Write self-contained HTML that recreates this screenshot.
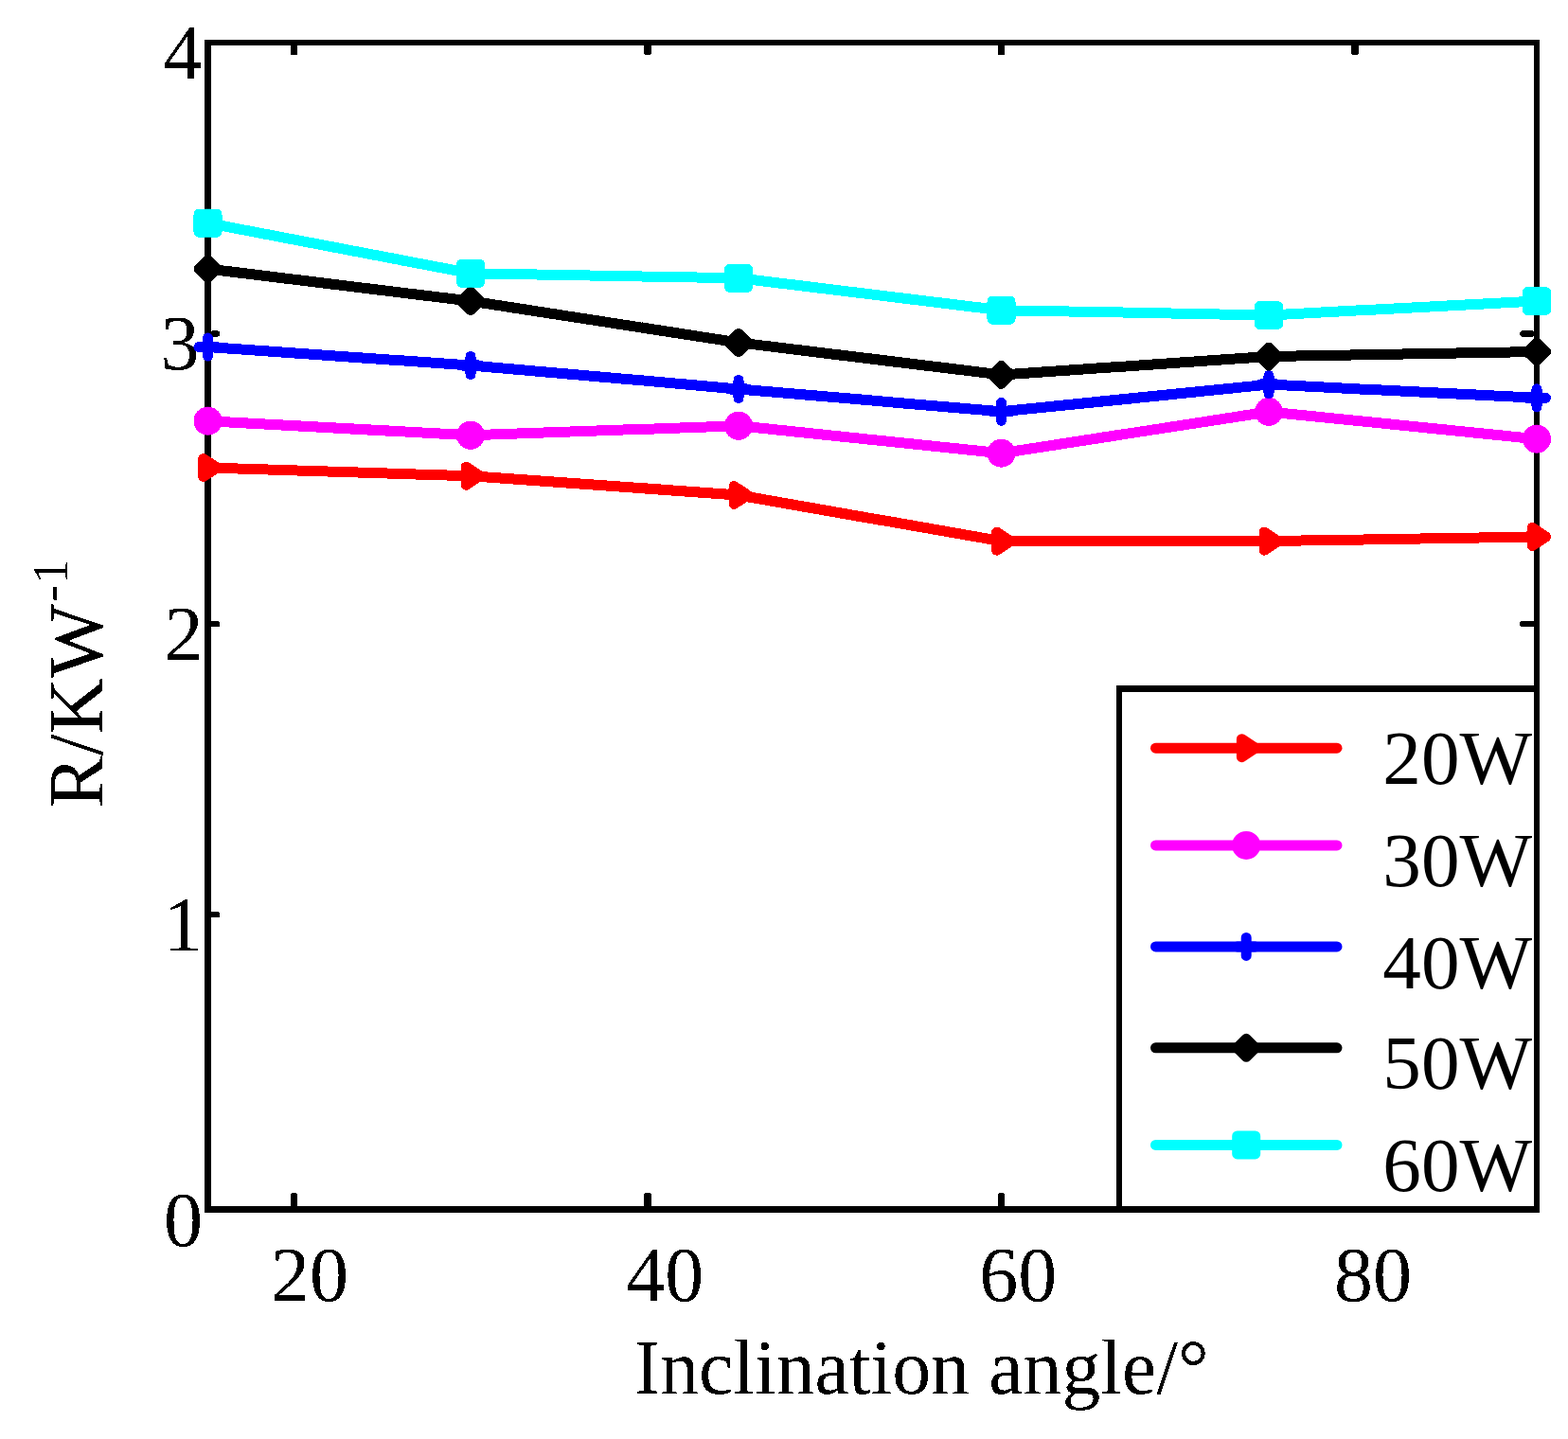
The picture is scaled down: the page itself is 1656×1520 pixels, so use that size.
<!DOCTYPE html>
<html><head><meta charset="utf-8"><title>R/KW-1 vs Inclination angle</title>
<style>html,body{margin:0;padding:0;background:#fff;overflow:hidden;}svg{display:block;}text{font-family:'Liberation Serif', 'Times New Roman', serif;fill:#000;}</style></head><body>
<svg width="1656" height="1520" viewBox="0 0 1656 1520">
<defs><filter id="alias" x="0" y="0" width="1656" height="1520" filterUnits="userSpaceOnUse" color-interpolation-filters="sRGB"><feComponentTransfer><feFuncA type="discrete" tableValues="0 1"/></feComponentTransfer></filter></defs>
<rect width="1656" height="1520" fill="#fff"/>
<g filter="url(#alias)">
<g fill="#000">
<rect x="216" y="42" width="7" height="1239"/>
<rect x="1620" y="42" width="6" height="1239"/>
<rect x="216" y="42" width="1410" height="6"/>
<rect x="216" y="1274" width="1410" height="7"/>
<rect x="307.0" y="1260" width="7" height="15" rx="1.5"/>
<rect x="307.0" y="47" width="7" height="11" rx="1.5"/>
<rect x="680.5" y="1260" width="7" height="15" rx="1.5"/>
<rect x="680.5" y="47" width="7" height="11" rx="1.5"/>
<rect x="1054.0" y="1260" width="7" height="15" rx="1.5"/>
<rect x="1054.0" y="47" width="7" height="11" rx="1.5"/>
<rect x="1427.5" y="1260" width="7" height="15" rx="1.5"/>
<rect x="1427.5" y="47" width="7" height="11" rx="1.5"/>
<rect x="222" y="962.9" width="10" height="6" rx="1.5"/>
<rect x="1605.5" y="962.9" width="15" height="6" rx="1.5"/>
<rect x="222" y="655.9" width="10" height="6" rx="1.5"/>
<rect x="1605.5" y="655.9" width="15" height="6" rx="1.5"/>
<rect x="222" y="349.4" width="10" height="6" rx="1.5"/>
<rect x="1605.5" y="349.4" width="15" height="6" rx="1.5"/>
</g>
<text x="327.1" y="1374" font-size="82" text-anchor="middle">20</text>
<text x="702.2" y="1374" font-size="82" text-anchor="middle">40</text>
<text x="1075.2" y="1374" font-size="82" text-anchor="middle">60</text>
<text x="1450.0" y="1374" font-size="82" text-anchor="middle">80</text>
<text x="172.45" y="82.8" font-size="82">4</text>
<text x="169.45" y="390.1" font-size="82">3</text>
<text x="173.45" y="696.6" font-size="82">2</text>
<text x="172.9" y="1003.7" font-size="82">1</text>
<text x="173" y="1316.0" font-size="82">0</text>
<polyline points="219.5,494 497,502.7 780,523 1057.5,571.6 1340,571.6 1623,566.9" fill="none" stroke="#ff0000" stroke-width="11" stroke-linejoin="round" stroke-linecap="butt"/>
<path d="M214.70 484.50L229.00 494.00L214.70 503.50Z" fill="#ff0000" stroke="#ff0000" stroke-width="11" stroke-linejoin="round" stroke-linecap="round"/>
<path d="M492.20 493.20L506.50 502.70L492.20 512.20Z" fill="#ff0000" stroke="#ff0000" stroke-width="11" stroke-linejoin="round" stroke-linecap="round"/>
<path d="M775.20 513.50L789.50 523.00L775.20 532.50Z" fill="#ff0000" stroke="#ff0000" stroke-width="11" stroke-linejoin="round" stroke-linecap="round"/>
<path d="M1052.70 562.10L1067.00 571.60L1052.70 581.10Z" fill="#ff0000" stroke="#ff0000" stroke-width="11" stroke-linejoin="round" stroke-linecap="round"/>
<path d="M1335.20 562.10L1349.50 571.60L1335.20 581.10Z" fill="#ff0000" stroke="#ff0000" stroke-width="11" stroke-linejoin="round" stroke-linecap="round"/>
<path d="M1618.20 557.40L1632.50 566.90L1618.20 576.40Z" fill="#ff0000" stroke="#ff0000" stroke-width="11" stroke-linejoin="round" stroke-linecap="round"/>
<polyline points="219.5,444.7 497,459.8 780,449.8 1057.5,478.7 1340,435 1623,463.7" fill="none" stroke="#ff00ff" stroke-width="11" stroke-linejoin="round" stroke-linecap="butt"/>
<circle cx="219.50" cy="444.70" r="9.50" fill="#ff00ff" stroke="#ff00ff" stroke-width="11" stroke-linejoin="round" stroke-linecap="round"/>
<circle cx="497.00" cy="459.80" r="9.50" fill="#ff00ff" stroke="#ff00ff" stroke-width="11" stroke-linejoin="round" stroke-linecap="round"/>
<circle cx="780.00" cy="449.80" r="9.50" fill="#ff00ff" stroke="#ff00ff" stroke-width="11" stroke-linejoin="round" stroke-linecap="round"/>
<circle cx="1057.50" cy="478.70" r="9.50" fill="#ff00ff" stroke="#ff00ff" stroke-width="11" stroke-linejoin="round" stroke-linecap="round"/>
<circle cx="1340.00" cy="435.00" r="9.50" fill="#ff00ff" stroke="#ff00ff" stroke-width="11" stroke-linejoin="round" stroke-linecap="round"/>
<circle cx="1623.00" cy="463.70" r="9.50" fill="#ff00ff" stroke="#ff00ff" stroke-width="11" stroke-linejoin="round" stroke-linecap="round"/>
<polyline points="219.5,366.6 497,386 780,410.9 1057.5,434.8 1340,406.1 1623,420.3" fill="none" stroke="#0000ff" stroke-width="11" stroke-linejoin="round" stroke-linecap="butt"/>
<path d="M210.00 366.60H229.00M219.50 357.10V376.10" fill="#0000ff" stroke="#0000ff" stroke-width="11" stroke-linejoin="round" stroke-linecap="round"/>
<path d="M487.50 386.00H506.50M497.00 376.50V395.50" fill="#0000ff" stroke="#0000ff" stroke-width="11" stroke-linejoin="round" stroke-linecap="round"/>
<path d="M770.50 410.90H789.50M780.00 401.40V420.40" fill="#0000ff" stroke="#0000ff" stroke-width="11" stroke-linejoin="round" stroke-linecap="round"/>
<path d="M1048.00 434.80H1067.00M1057.50 425.30V444.30" fill="#0000ff" stroke="#0000ff" stroke-width="11" stroke-linejoin="round" stroke-linecap="round"/>
<path d="M1330.50 406.10H1349.50M1340.00 396.60V415.60" fill="#0000ff" stroke="#0000ff" stroke-width="11" stroke-linejoin="round" stroke-linecap="round"/>
<path d="M1613.50 420.30H1632.50M1623.00 410.80V429.80" fill="#0000ff" stroke="#0000ff" stroke-width="11" stroke-linejoin="round" stroke-linecap="round"/>
<polyline points="219.5,284 497,318 780,361.9 1057.5,395.9 1340,376.6 1623,371.6" fill="none" stroke="#000000" stroke-width="11" stroke-linejoin="round" stroke-linecap="butt"/>
<path d="M219.50 274.50L229.00 284.00L219.50 293.50L210.00 284.00Z" fill="#000000" stroke="#000000" stroke-width="11" stroke-linejoin="round" stroke-linecap="round"/>
<path d="M497.00 308.50L506.50 318.00L497.00 327.50L487.50 318.00Z" fill="#000000" stroke="#000000" stroke-width="11" stroke-linejoin="round" stroke-linecap="round"/>
<path d="M780.00 352.40L789.50 361.90L780.00 371.40L770.50 361.90Z" fill="#000000" stroke="#000000" stroke-width="11" stroke-linejoin="round" stroke-linecap="round"/>
<path d="M1057.50 386.40L1067.00 395.90L1057.50 405.40L1048.00 395.90Z" fill="#000000" stroke="#000000" stroke-width="11" stroke-linejoin="round" stroke-linecap="round"/>
<path d="M1340.00 367.10L1349.50 376.60L1340.00 386.10L1330.50 376.60Z" fill="#000000" stroke="#000000" stroke-width="11" stroke-linejoin="round" stroke-linecap="round"/>
<path d="M1623.00 362.10L1632.50 371.60L1623.00 381.10L1613.50 371.60Z" fill="#000000" stroke="#000000" stroke-width="11" stroke-linejoin="round" stroke-linecap="round"/>
<polyline points="219.5,235.7 497,288.7 780,293.8 1057.5,327.7 1340,332.9 1623,317.9" fill="none" stroke="#00ffff" stroke-width="11" stroke-linejoin="round" stroke-linecap="butt"/>
<rect x="210.00" y="226.20" width="19.00" height="19.00" fill="#00ffff" stroke="#00ffff" stroke-width="11" stroke-linejoin="round" stroke-linecap="round"/>
<rect x="487.50" y="279.20" width="19.00" height="19.00" fill="#00ffff" stroke="#00ffff" stroke-width="11" stroke-linejoin="round" stroke-linecap="round"/>
<rect x="770.50" y="284.30" width="19.00" height="19.00" fill="#00ffff" stroke="#00ffff" stroke-width="11" stroke-linejoin="round" stroke-linecap="round"/>
<rect x="1048.00" y="318.20" width="19.00" height="19.00" fill="#00ffff" stroke="#00ffff" stroke-width="11" stroke-linejoin="round" stroke-linecap="round"/>
<rect x="1330.50" y="323.40" width="19.00" height="19.00" fill="#00ffff" stroke="#00ffff" stroke-width="11" stroke-linejoin="round" stroke-linecap="round"/>
<rect x="1613.50" y="308.40" width="19.00" height="19.00" fill="#00ffff" stroke="#00ffff" stroke-width="11" stroke-linejoin="round" stroke-linecap="round"/>
<rect x="1182" y="727.5" width="441" height="550" fill="#fff"/>
<g fill="#000">
<rect x="1179" y="724" width="6" height="557"/>
<rect x="1179" y="724" width="447" height="7"/>
<rect x="1620" y="724" width="6" height="557"/>
<rect x="1179" y="1274" width="447" height="7"/>
</g>
<line x1="1220.5" y1="790.2" x2="1412" y2="790.2" stroke="#ff0000" stroke-width="11" stroke-linecap="round"/>
<path d="M1311.40 780.70L1325.70 790.20L1311.40 799.70Z" fill="#ff0000" stroke="#ff0000" stroke-width="11" stroke-linejoin="round" stroke-linecap="round"/>
<text x="1460.3" y="827.9" font-size="81.2">20W</text>
<line x1="1220.5" y1="892.9" x2="1412" y2="892.9" stroke="#ff00ff" stroke-width="11" stroke-linecap="round"/>
<circle cx="1316.20" cy="892.90" r="9.50" fill="#ff00ff" stroke="#ff00ff" stroke-width="11" stroke-linejoin="round" stroke-linecap="round"/>
<text x="1460.3" y="936.0" font-size="81.2">30W</text>
<line x1="1220.5" y1="999.9" x2="1412" y2="999.9" stroke="#0000ff" stroke-width="11" stroke-linecap="round"/>
<path d="M1306.70 999.90H1325.70M1316.20 990.40V1009.40" fill="#0000ff" stroke="#0000ff" stroke-width="11" stroke-linejoin="round" stroke-linecap="round"/>
<text x="1460.3" y="1044.1" font-size="81.2">40W</text>
<line x1="1220.5" y1="1106.8" x2="1412" y2="1106.8" stroke="#000000" stroke-width="11" stroke-linecap="round"/>
<path d="M1316.20 1097.30L1325.70 1106.80L1316.20 1116.30L1306.70 1106.80Z" fill="#000000" stroke="#000000" stroke-width="11" stroke-linejoin="round" stroke-linecap="round"/>
<text x="1460.3" y="1150.2" font-size="81.2">50W</text>
<line x1="1220.5" y1="1209.4" x2="1412" y2="1209.4" stroke="#00ffff" stroke-width="11" stroke-linecap="round"/>
<rect x="1306.70" y="1199.90" width="19.00" height="19.00" fill="#00ffff" stroke="#00ffff" stroke-width="11" stroke-linejoin="round" stroke-linecap="round"/>
<text x="1460.3" y="1258.2" font-size="81.2">60W</text>
<text x="670" y="1472" font-size="81.7">Inclination angle/°</text>
<g transform="translate(108,853.5) rotate(-90)"><text x="0" y="0" font-size="82.5">R/KW<tspan font-size="53" dx="2.6" dy="-37">-</tspan><tspan font-size="53" dx="0.8">1</tspan></text></g>
</g>
</svg></body></html>
